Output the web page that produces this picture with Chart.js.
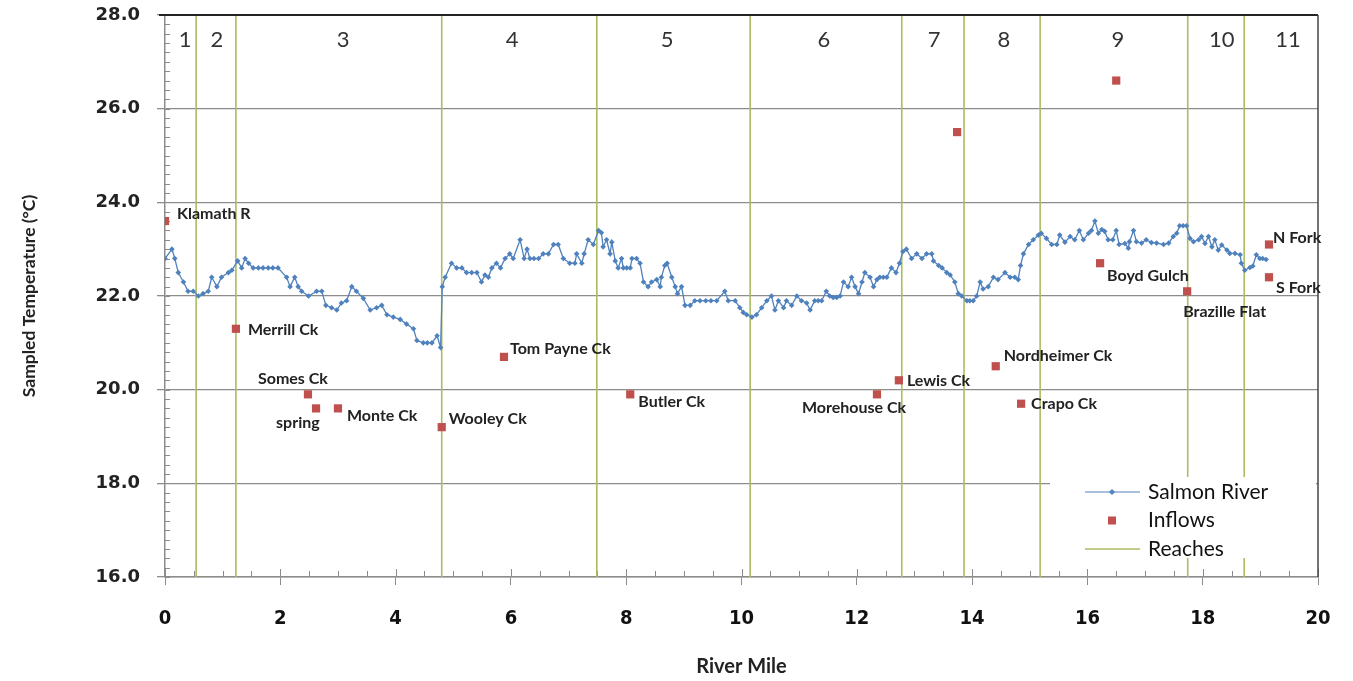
<!DOCTYPE html>
<html>
<head>
<meta charset="utf-8">
<script src="https://cdn.jsdelivr.net/npm/chart.js@4.4.0/dist/chart.umd.min.js"></script>
<style>
  html, body { margin: 0; padding: 0; background: #ffffff; }
  #wrap { width: 1353px; height: 681px; position: relative; }
</style>
</head>
<body>
<div id="wrap"><canvas id="chart"></canvas></div>
<script>
// Salmon River longitudinal temperature survey
const salmonMiles = [
  0.00, 0.12, 0.17, 0.23, 0.32, 0.40, 0.49, 0.58, 0.66, 0.75, 0.81, 0.90, 0.98, 1.10, 1.16, 1.26,
  1.33, 1.39, 1.45, 1.53, 1.62, 1.70, 1.79, 1.87, 1.96, 2.11, 2.17, 2.25, 2.31, 2.37, 2.49, 2.63,
  2.72, 2.79, 2.89, 2.98, 3.06, 3.15, 3.24, 3.32, 3.44, 3.56, 3.67, 3.76, 3.85, 3.96, 4.08, 4.19,
  4.31, 4.37, 4.48, 4.55, 4.63, 4.72, 4.78, 4.81, 4.86, 4.97, 5.06, 5.15, 5.23, 5.32, 5.41, 5.49,
  5.55, 5.61, 5.67, 5.75, 5.82, 5.90, 5.98, 6.04, 6.16, 6.23, 6.28, 6.33, 6.40, 6.48, 6.56, 6.65,
  6.74, 6.82, 6.91, 7.02, 7.11, 7.14, 7.23, 7.27, 7.34, 7.43, 7.52, 7.57, 7.60, 7.66, 7.72, 7.75,
  7.81, 7.86, 7.92, 7.95, 8.01, 8.07, 8.10, 8.18, 8.24, 8.30, 8.38, 8.44, 8.53, 8.59, 8.61, 8.67,
  8.71, 8.79, 8.85, 8.89, 8.96, 9.02, 9.11, 9.19, 9.28, 9.38, 9.47, 9.57, 9.71, 9.77, 9.89, 9.97,
  10.03, 10.09, 10.18, 10.26, 10.35, 10.44, 10.52, 10.58, 10.64, 10.73, 10.78, 10.87, 10.96, 11.04,
  11.13, 11.19, 11.27, 11.33, 11.39, 11.47, 11.53, 11.59, 11.65, 11.71, 11.77, 11.85, 11.91, 11.97,
  12.03, 12.09, 12.14, 12.23, 12.29, 12.35, 12.40, 12.46, 12.52, 12.60, 12.68, 12.74, 12.80, 12.86,
  12.95, 13.04, 13.13, 13.21, 13.30, 13.33, 13.42, 13.48, 13.56, 13.62, 13.70, 13.76, 13.82, 13.91,
  13.96, 14.02, 14.08, 14.14, 14.19, 14.28, 14.37, 14.45, 14.57, 14.66, 14.74, 14.80, 14.84, 14.89,
  14.98, 15.06, 15.15, 15.20, 15.29, 15.38, 15.47, 15.52, 15.61, 15.70, 15.78, 15.86, 15.93, 16.02,
  16.07, 16.13, 16.19, 16.25, 16.30, 16.36, 16.44, 16.50, 16.55, 16.65, 16.71, 16.73, 16.80, 16.85,
  16.94, 17.02, 17.11, 17.20, 17.32, 17.41, 17.49, 17.55, 17.60, 17.66, 17.72, 17.78, 17.84, 17.93,
  17.98, 18.04, 18.10, 18.16, 18.21, 18.27, 18.33, 18.42, 18.47, 18.56, 18.65, 18.67, 18.73, 18.82,
  18.87, 18.93, 18.99, 19.04, 19.10
];
const salmonTemps = [
  22.80, 23.00, 22.80, 22.50, 22.30, 22.10, 22.10, 22.00, 22.05, 22.10, 22.40, 22.20, 22.40, 22.50, 22.55, 22.75,
  22.60, 22.80, 22.70, 22.60, 22.60, 22.60, 22.60, 22.60, 22.60, 22.40, 22.20, 22.40, 22.20, 22.10, 22.00, 22.10,
  22.10, 21.80, 21.75, 21.70, 21.85, 21.90, 22.20, 22.10, 21.95, 21.70, 21.75, 21.80, 21.60, 21.55, 21.50, 21.40,
  21.30, 21.05, 21.00, 21.00, 21.00, 21.15, 20.90, 22.20, 22.40, 22.70, 22.60, 22.60, 22.50, 22.50, 22.50, 22.30,
  22.45, 22.40, 22.60, 22.70, 22.60, 22.80, 22.90, 22.80, 23.20, 22.80, 23.00, 22.80, 22.80, 22.80, 22.90, 22.90,
  23.10, 23.10, 22.80, 22.70, 22.70, 22.90, 22.70, 22.90, 23.20, 23.10, 23.40, 23.35, 23.05, 23.20, 22.90, 23.15,
  22.75, 22.60, 22.80, 22.60, 22.60, 22.60, 22.80, 22.80, 22.70, 22.30, 22.20, 22.30, 22.35, 22.20, 22.40, 22.65,
  22.70, 22.40, 22.20, 22.05, 22.20, 21.80, 21.80, 21.90, 21.90, 21.90, 21.90, 21.90, 22.10, 21.90, 21.90, 21.75,
  21.65, 21.60, 21.55, 21.60, 21.75, 21.90, 22.00, 21.70, 21.90, 21.75, 21.90, 21.80, 22.00, 21.90,
  21.85, 21.70, 21.90, 21.90, 21.90, 22.10, 22.00, 21.97, 21.97, 22.00, 22.30, 22.20, 22.40, 22.20,
  22.05, 22.30, 22.50, 22.40, 22.20, 22.35, 22.40, 22.40, 22.40, 22.60, 22.50, 22.70, 22.95, 23.00,
  22.80, 22.90, 22.80, 22.90, 22.90, 22.75, 22.65, 22.60, 22.50, 22.45, 22.30, 22.05, 22.00, 21.90,
  21.90, 21.90, 22.00, 22.30, 22.15, 22.20, 22.40, 22.35, 22.50, 22.40, 22.40, 22.35, 22.65, 22.90,
  23.10, 23.20, 23.30, 23.34, 23.23, 23.10, 23.10, 23.30, 23.15, 23.27, 23.20, 23.40, 23.20, 23.34,
  23.40, 23.60, 23.34, 23.42, 23.38, 23.20, 23.20, 23.40, 23.10, 23.12, 23.02, 23.16, 23.40, 23.16,
  23.13, 23.20, 23.14, 23.13, 23.10, 23.13, 23.27, 23.34, 23.50, 23.50, 23.50, 23.23, 23.16, 23.20,
  23.27, 23.12, 23.27, 23.05, 23.20, 22.98, 23.09, 22.98, 22.91, 22.91, 22.88, 22.70, 22.55, 22.61,
  22.64, 22.88, 22.80, 22.80, 22.78
];

// Tributary and spring inflows
const inflowNames = [
  'Klamath R', 'Merrill Ck', 'Somes Ck', 'spring', 'Monte Ck', 'Wooley Ck', 'Tom Payne Ck', 'Butler Ck',
  'Morehouse Ck', 'Lewis Ck', '', 'Nordheimer Ck', 'Crapo Ck', 'Boyd Gulch', '', 'Brazille Flat', 'N Fork', 'S Fork'
];
const inflowMiles = [0.00, 1.23, 2.48, 2.62, 3.00, 4.80, 5.88, 8.07, 12.35, 12.73, 13.74, 14.41, 14.85, 16.22, 16.50, 17.73, 19.15, 19.15];
const inflowTemps = [23.6, 21.3, 19.9, 19.6, 19.6, 19.2, 20.7, 19.9, 19.9, 20.2, 25.5, 20.5, 19.7, 22.7, 26.6, 22.1, 23.1, 22.4];

// Reach boundaries and reach numbers
const reachBounds = [0.54, 1.23, 4.80, 7.49, 10.15, 12.78, 13.86, 15.18, 17.74, 18.72];
const reachNames = ['1', '2', '3', '4', '5', '6', '7', '8', '9', '10', '11'];
const reachNameMiles = [0.35, 0.90, 3.09, 6.02, 8.71, 11.43, 13.34, 14.55, 16.53, 18.33, 19.48];

// Axis ticks
const xTicks = [0, 2, 4, 6, 8, 10, 12, 14, 16, 18, 20];
const yTicks = [16, 18, 20, 22, 24, 26, 28];

// Label placement for inflow names (pixel offset of the text's left/middle from the marker)
const inflowLabelOffsets = [
  [12, -7], [12, 1], [-50, -16], [-40, 14], [9, 7], [7, -8], [6, -8], [8, 7],
  [-75, 13], [8, 1], [0, 0], [8, -10], [10, 0], [7, 13], [0, 0], [-4, 21], [4, -7], [7, 11]
];

const BLUE = '#4F81BD';
const RED = '#C0504D';
const GREEN = '#A9BD62';
const GRID = '#8C8C8C';
const LABEL_FONT = "'Lato', 'Open Sans', sans-serif";

const salmonData = salmonMiles.map((m, i) => ({ x: m, y: salmonTemps[i] }));
const inflowData = inflowMiles.map((m, i) => ({ x: m, y: inflowTemps[i] }));
const reachData = reachBounds.flatMap(m => [{ x: m, y: yTicks[0] }, { x: m, y: yTicks[yTicks.length - 1] }, { x: m, y: null }]);

const decorations = {
  id: 'decorations',
  beforeDatasetsDraw(chart) {
    const { ctx, chartArea: a, scales: { x, y } } = chart;
    ctx.save();
    ctx.strokeStyle = GRID;
    ctx.lineWidth = 1;
    // minor ticks, pointing into the plot
    for (let v = 16; v <= 28.0001; v += 0.2) {
      const py = Math.round(y.getPixelForValue(v)) + 0.5;
      ctx.beginPath(); ctx.moveTo(a.left, py); ctx.lineTo(a.left + 5, py); ctx.stroke();
    }
    for (let v = 0; v <= 20.0001; v += 0.5) {
      const px = Math.round(x.getPixelForValue(v)) + 0.5;
      ctx.beginPath(); ctx.moveTo(px, a.bottom); ctx.lineTo(px, a.bottom - (v % 2 === 0 ? 8 : 6)); ctx.stroke();
    }
    ctx.restore();
  },
  afterDraw(chart) {
    const { ctx, chartArea: a, scales: { x, y } } = chart;
    ctx.save();
    // frame: top and right edges
    ctx.strokeStyle = '#222';
    ctx.lineWidth = 2;
    ctx.beginPath(); ctx.moveTo(a.left - 6, a.top); ctx.lineTo(a.right, a.top); ctx.stroke();
    ctx.strokeStyle = '#444';
    ctx.lineWidth = 1.5;
    ctx.beginPath(); ctx.moveTo(a.right, a.top); ctx.lineTo(a.right, a.bottom); ctx.stroke();

    // reach numbers
    ctx.fillStyle = '#333';
    ctx.font = `22px ${LABEL_FONT}`;
    ctx.textAlign = 'center';
    ctx.textBaseline = 'middle';
    reachNames.forEach((t, i) => ctx.fillText(t, x.getPixelForValue(reachNameMiles[i]), a.top + 25));

    // inflow names
    const meta = chart.getDatasetMeta(1);
    ctx.fillStyle = '#222';
    ctx.font = `bold 16px ${LABEL_FONT}`;
    ctx.textAlign = 'left';
    inflowNames.forEach((t, i) => {
      if (!t) return;
      const p = meta.data[i];
      const [dx, dy] = inflowLabelOffsets[i];
      ctx.fillText(t, p.x + dx, p.y + dy);
    });

    // legend
    const lx = 1050, ly = 477;
    ctx.fillStyle = '#fff';
    ctx.fillRect(lx, ly, a.right - lx - 2, 81);
    const rows = [
      { text: 'Salmon River', kind: 'line', color: BLUE, marker: true },
      { text: 'Inflows', kind: 'square', color: RED },
      { text: 'Reaches', kind: 'line', color: GREEN }
    ];
    ctx.font = `21px ${LABEL_FONT}`;
    ctx.textBaseline = 'middle';
    rows.forEach((r, i) => {
      const cy = ly + 15 + i * 28.5;
      if (r.kind === 'line') {
        ctx.strokeStyle = r.color;
        ctx.lineWidth = r.marker ? 1.2 : 1.6;
        ctx.beginPath(); ctx.moveTo(1085, cy); ctx.lineTo(1140, cy); ctx.stroke();
        if (r.marker) {
          ctx.fillStyle = r.color;
          ctx.beginPath();
          ctx.moveTo(1112, cy - 3); ctx.lineTo(1115, cy); ctx.lineTo(1112, cy + 3); ctx.lineTo(1109, cy);
          ctx.closePath(); ctx.fill();
        }
      } else {
        ctx.fillStyle = r.color;
        ctx.fillRect(1108, cy - 4, 8, 8);
      }
      ctx.fillStyle = '#111';
      ctx.fillText(r.text, 1148, cy);
    });
    ctx.restore();
  }
};

new Chart(document.getElementById('chart'), {
  type: 'scatter',
  data: {
    datasets: [
      {
        label: 'Salmon River',
        data: salmonData,
        showLine: true,
        borderColor: BLUE,
        borderWidth: 1.3,
        backgroundColor: BLUE,
        pointStyle: 'rectRot',
        pointRadius: 2.8,
        pointBorderWidth: 0,
        pointBackgroundColor: BLUE,
        tension: 0
      },
      {
        label: 'Inflows',
        data: inflowData,
        showLine: false,
        pointStyle: 'rect',
        pointRadius: 5.8,
        pointBorderWidth: 0,
        pointBackgroundColor: RED,
        backgroundColor: RED
      },
      {
        label: 'Reaches',
        data: reachData,
        showLine: true,
        spanGaps: false,
        borderColor: GREEN,
        borderWidth: 1.6,
        pointRadius: 0
      }
    ]
  },
  options: {
    responsive: true,
    maintainAspectRatio: false,
    animation: false,
    layout: { padding: { top: 15, right: 35, left: 0, bottom: 0 } },
    plugins: { legend: { display: false }, tooltip: { enabled: false } },
    scales: {
      x: {
        type: 'linear',
        min: 0, max: 20,
        afterBuildTicks(scale) { scale.ticks = xTicks.map(v => ({ value: v })); },
        afterFit(scale) { scale.height = 104; },
        grid: { drawOnChartArea: false, drawTicks: true, tickLength: 8, color: GRID, lineWidth: 1 },
        border: { display: true, color: GRID, width: 1.5 },
        ticks: {
          padding: 22,
          color: '#111',
          font: { family: "'Liberation Sans Narrow', 'DejaVu Sans Condensed', sans-serif", size: 20, weight: 'bold' },
          callback: v => String(v),
          maxRotation: 0
        },
        title: {
          display: true,
          text: 'River Mile',
          color: '#222',
          font: { family: LABEL_FONT, size: 20, weight: 'bold' },
          padding: { top: 0, bottom: 2 }
        }
      },
      y: {
        type: 'linear',
        min: 16, max: 28,
        afterBuildTicks(scale) { scale.ticks = yTicks.map(v => ({ value: v })); },
        afterFit(scale) {
          scale.width = 165;
          // keep the plot top/bottom set by the layout padding alone
          scale.paddingTop = 0;
          scale.paddingBottom = 0;
        },
        grid: { drawOnChartArea: true, drawTicks: true, tickLength: 8, color: GRID, lineWidth: 1.3 },
        border: { display: true, color: GRID, width: 1.5 },
        ticks: {
          padding: 17,
          color: '#222',
          font: { family: "'DejaVu Sans', sans-serif", size: 18, weight: 'bold' },
          callback: v => Number(v).toFixed(1)
        },
        title: {
          display: true,
          text: 'Sampled Temperature (°C)',
          color: '#222',
          font: { family: LABEL_FONT, size: 17.5, weight: 'bold' },
          padding: { top: 19, bottom: 0 }
        }
      }
    }
  },
  plugins: [decorations]
});
</script>
</body>
</html>
